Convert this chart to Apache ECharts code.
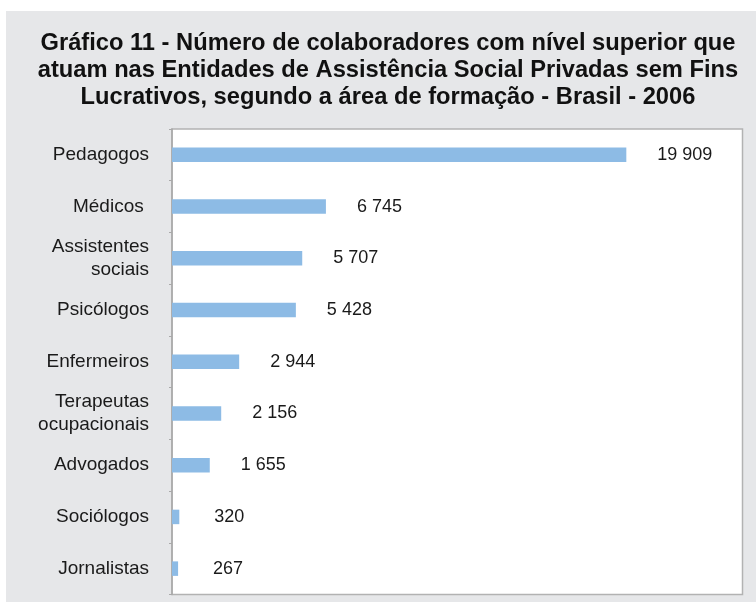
<!DOCTYPE html>
<html>
<head>
<meta charset="utf-8">
<script src="https://cdn.jsdelivr.net/npm/echarts@6/dist/echarts.min.js"></script>
<style>
html,body{margin:0;padding:0;background:#fff;}
#chart{width:756px;height:602px;}
</style>
</head>
<body>
<div id="chart"></div>
<script>
const titleText = 'Gráfico 11 - Número de colaboradores com nível superior que\natuam nas Entidades de Assistência Social Privadas sem Fins\nLucrativos, segundo a área de formação - Brasil - 2006';
const categories = ['Pedagogos', 'Médicos ', 'Assistentes\nsociais', 'Psicólogos', 'Enfermeiros', 'Terapeutas\nocupacionais', 'Advogados', 'Sociólogos', 'Jornalistas'];
const values = [19909, 6745, 5707, 5428, 2944, 2156, 1655, 320, 267];
const axisMax = 25000;

function fmt(v) {
  return String(v).replace(/\B(?=(\d{3})+(?!\d))/g, ' ');
}

const seriesData = values.map(v => ({
  value: v,
  label: {distance: v < 1000 ? 35 : 31}
}));

const chart = echarts.init(document.getElementById('chart'), null, {renderer: 'canvas'});
chart.setOption({
  animation: false,
  backgroundColor: '#ffffff',
  graphic: [{
    type: 'rect', z: -10, silent: true,
    shape: {x: 6, y: 11, width: 760, height: 600},
    style: {fill: '#e6e7e9'}
  }],
  title: {
    text: titleText,
    left: 388,
    top: 30,
    padding: 0,
    textAlign: 'center',
    textStyle: {
      fontFamily: 'Liberation Sans Narrow, Arial Narrow, sans-serif',
      fontWeight: 'bold',
      fontSize: 23.7,
      lineHeight: 27,
      color: '#111111'
    }
  },
  grid: {
    left: 172, top: 129, right: 13.5, bottom: 7.5,
    show: true,
    backgroundColor: '#ffffff',
    borderColor: '#b2b2b2',
    borderWidth: 1.5,
    containLabel: false
  },
  xAxis: {
    type: 'value', min: 0, max: axisMax,
    axisLine: {show: false}, axisTick: {show: false},
    axisLabel: {show: false}, splitLine: {show: false}
  },
  yAxis: {
    type: 'category', data: categories, inverse: true,
    axisLine: {show: true, lineStyle: {color: '#a9a9a9', width: 1.5}},
    axisTick: {show: true, length: 3, lineStyle: {color: '#a9a9a9', width: 1}},
    axisLabel: {
      fontFamily: 'Liberation Sans, Arial, Helvetica, sans-serif',
      fontSize: 19, lineHeight: 22.5, color: '#1a1a1a', margin: 23, align: 'right'
    }
  },
  series: [{
    type: 'bar',
    data: seriesData,
    barWidth: 14.5,
    itemStyle: {color: '#8dbbe5'},
    label: {
      show: true, position: 'right', distance: 31,
      fontFamily: 'Liberation Sans, Arial, Helvetica, sans-serif',
      fontSize: 18, color: '#1a1a1a',
      formatter: p => fmt(p.value)
    }
  }]
});
</script>
</body>
</html>
